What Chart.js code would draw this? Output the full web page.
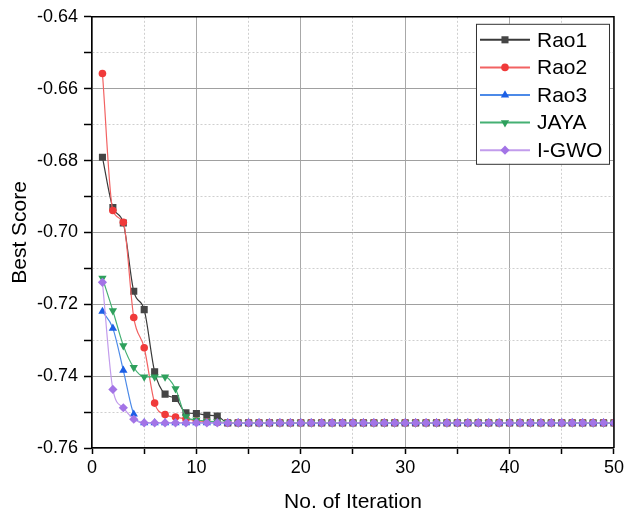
<!DOCTYPE html>
<html>
<head>
<meta charset="utf-8">
<script src="https://cdn.jsdelivr.net/npm/chart.js@4.4.1/dist/chart.umd.min.js"></script>
<style>
  html, body { margin: 0; padding: 0; background: #fff; }
  #graph { display: block; }
</style>
</head>
<body>
<canvas id="graph" width="627" height="515"></canvas>
<script>
const iterations = [1,2,3,4,5,6,7,8,9,10,11,12,13,14,15,16,17,18,19,20,21,22,23,24,25,
  26,27,28,29,30,31,32,33,34,35,36,37,38,39,40,41,42,43,44,45,46,47,48,49,50];

const rao1 = [-0.6791,-0.6931,-0.6974,-0.7164,-0.7215,-0.7388,-0.7450,-0.7462,-0.7502,-0.7504,
  -0.7509,-0.7511,-0.7530,-0.7530,-0.7530,-0.7530,-0.7530,-0.7530,-0.7530,-0.7530,
  -0.7530,-0.7530,-0.7530,-0.7530,-0.7530,-0.7530,-0.7530,-0.7530,-0.7530,-0.7530,
  -0.7530,-0.7530,-0.7530,-0.7530,-0.7530,-0.7530,-0.7530,-0.7530,-0.7530,-0.7530,
  -0.7530,-0.7530,-0.7530,-0.7530,-0.7530,-0.7530,-0.7530,-0.7530,-0.7530,-0.7530];
const rao2 = [-0.6558,-0.6939,-0.6972,-0.7237,-0.7321,-0.7475,-0.7507,-0.7514,-0.7519,-0.7524,
  -0.7527,-0.7529,-0.7530,-0.7530,-0.7530,-0.7530,-0.7530,-0.7530,-0.7530,-0.7530,
  -0.7530,-0.7530,-0.7530,-0.7530,-0.7530,-0.7530,-0.7530,-0.7530,-0.7530,-0.7530,
  -0.7530,-0.7530,-0.7530,-0.7530,-0.7530,-0.7530,-0.7530,-0.7530,-0.7530,-0.7530,
  -0.7530,-0.7530,-0.7530,-0.7530,-0.7530,-0.7530,-0.7530,-0.7530,-0.7530,-0.7530];
const rao3 = [-0.7220,-0.7267,-0.7384,-0.7506,-0.7530,-0.7530,-0.7530,-0.7530,-0.7530,-0.7530,
  -0.7530,-0.7530,-0.7530,-0.7530,-0.7530,-0.7530,-0.7530,-0.7530,-0.7530,-0.7530,
  -0.7530,-0.7530,-0.7530,-0.7530,-0.7530,-0.7530,-0.7530,-0.7530,-0.7530,-0.7530,
  -0.7530,-0.7530,-0.7530,-0.7530,-0.7530,-0.7530,-0.7530,-0.7530,-0.7530,-0.7530,
  -0.7530,-0.7530,-0.7530,-0.7530,-0.7530,-0.7530,-0.7530,-0.7530,-0.7530,-0.7530];
const jaya = [-0.7127,-0.7218,-0.7315,-0.7376,-0.7402,-0.7402,-0.7402,-0.7435,-0.7513,-0.7522,
  -0.7525,-0.7527,-0.7529,-0.7530,-0.7530,-0.7530,-0.7530,-0.7530,-0.7530,-0.7530,
  -0.7530,-0.7530,-0.7530,-0.7530,-0.7530,-0.7530,-0.7530,-0.7530,-0.7530,-0.7530,
  -0.7530,-0.7530,-0.7530,-0.7530,-0.7530,-0.7530,-0.7530,-0.7530,-0.7530,-0.7530,
  -0.7530,-0.7530,-0.7530,-0.7530,-0.7530,-0.7530,-0.7530,-0.7530,-0.7530,-0.7530];
const igwo = [-0.7139,-0.7437,-0.7488,-0.7520,-0.7530,-0.7530,-0.7530,-0.7530,-0.7530,-0.7530,
  -0.7530,-0.7530,-0.7530,-0.7530,-0.7530,-0.7530,-0.7530,-0.7530,-0.7530,-0.7530,
  -0.7530,-0.7530,-0.7530,-0.7530,-0.7530,-0.7530,-0.7530,-0.7530,-0.7530,-0.7530,
  -0.7530,-0.7530,-0.7530,-0.7530,-0.7530,-0.7530,-0.7530,-0.7530,-0.7530,-0.7530,
  -0.7530,-0.7530,-0.7530,-0.7530,-0.7530,-0.7530,-0.7530,-0.7530,-0.7530,-0.7530];

const seriesNames = ['Rao1', 'Rao2', 'Rao3', 'JAYA', 'I-GWO'];
const seriesValues = [rao1, rao2, rao3, jaya, igwo];

const FONT = '"Liberation Sans", Arial, sans-serif';

// look of each series: marker colour, line colour, marker shape
const styles = [
  { mark: '#454545', line: '#3a3a3a', shape: 'rect',    radius: 5.0, rot: 0 },
  { mark: '#f03a3a', line: '#f26262', shape: 'circle',  radius: 3.8, rot: 0 },
  { mark: '#1c5fe6', line: '#4c8ae8', shape: 'triangle', radius: 4.8, rot: 0 },
  { mark: '#2ea05c', line: '#45b073', shape: 'triangle', radius: 4.8, rot: 180 },
  { mark: '#a374e6', line: '#c29cec', shape: 'rectRot', radius: 4.6, rot: 0 }
];

const datasets = seriesNames.map((name, i) => ({
  label: name,
  data: iterations.map((it, k) => ({ x: it, y: seriesValues[i][k] })),
  borderColor: styles[i].line,
  borderWidth: 1.2,
  backgroundColor: styles[i].mark,
  pointBackgroundColor: styles[i].mark,
  pointBorderColor: styles[i].mark,
  pointBorderWidth: 0,
  pointStyle: styles[i].shape,
  pointRotation: styles[i].rot,
  pointRadius: styles[i].radius,
  cubicInterpolationMode: 'monotone',
  fill: false,
  order: 5 - i
}));

// frame on top/right plus the Origin-style legend
const framePlugin = {
  id: 'frameLegend',
  afterDraw(chart) {
    const { ctx, chartArea: a } = chart;
    ctx.save();
    ctx.strokeStyle = '#000';
    ctx.lineWidth = 1.5;
    ctx.beginPath();
    ctx.moveTo(a.left, a.top);
    ctx.lineTo(a.right, a.top);
    ctx.lineTo(a.right, a.bottom);
    ctx.stroke();

    const bx = a.right - 138, by = a.top + 7, bw = 133, bh = 140;
    ctx.fillStyle = '#fff';
    ctx.fillRect(bx, by, bw, bh);
    ctx.strokeStyle = '#333';
    ctx.lineWidth = 1;
    ctx.strokeRect(bx + 0.5, by + 0.5, bw, bh);

    seriesNames.forEach((name, i) => {
      const y = by + 16 + i * 27.6;
      ctx.strokeStyle = styles[i].line;
      ctx.lineWidth = 2;
      ctx.beginPath();
      ctx.moveTo(bx + 4, y);
      ctx.lineTo(bx + 54, y);
      ctx.stroke();
      ctx.fillStyle = styles[i].mark;
      ctx.strokeStyle = styles[i].mark;
      Chart.helpers.drawPoint(ctx, {
        pointStyle: styles[i].shape, radius: styles[i].radius,
        rotation: styles[i].rot, borderWidth: 0
      }, bx + 29, y);
      ctx.fillStyle = '#000';
      ctx.font = '21px ' + FONT;
      ctx.textBaseline = 'middle';
      ctx.textAlign = 'left';
      ctx.fillText(name, bx + 61, y + 1);
    });
    ctx.restore();
  }
};

const isMajorX = v => Math.round(v) % 10 === 0;
const isMajorY = v => Math.abs(Math.round(v * 100)) % 2 === 0;

new Chart(document.getElementById('graph').getContext('2d'), {
  type: 'line',
  data: { datasets },
  options: {
    responsive: false,
    animation: false,
    events: [],
    layout: { padding: { left: 8, top: 15, right: 10, bottom: 0 } },
    plugins: { legend: { display: false }, tooltip: { enabled: false } },
    scales: {
      x: {
        type: 'linear',
        min: 0, max: 50,
        afterFit(scale) { scale.height = 67; },
        ticks: {
          stepSize: 5, autoSkip: false, maxRotation: 0,
          color: '#000', padding: 3,
          font: { family: FONT, size: 18 },
          callback: v => isMajorX(v) ? String(v) : ''
        },
        grid: {
          color: c => isMajorX(c.tick ? c.tick.value : 0) ? '#a8a8a8' : '#cfcfcf',
          lineWidth: 1,
          tickColor: '#000', tickWidth: 1.5, tickLength: 6,
          tickBorderDash: []
        },
        border: {
          display: true, color: '#000', width: 1.5,
          dash: c => (c.tick && !isMajorX(c.tick.value)) ? [2, 2] : []
        },
        title: {
          display: true, text: 'No. of Iteration', color: '#000',
          font: { family: FONT, size: 21 }, padding: { top: 6, bottom: 0 }
        }
      },
      y: {
        min: -0.76, max: -0.64,
        afterFit(scale) { scale.width = 84; },
        ticks: {
          stepSize: 0.01, autoSkip: false,
          color: '#000', padding: 6,
          font: { family: FONT, size: 18 },
          callback: (v, i) => i % 2 === 0 ? Number(v).toFixed(2) : ''
        },
        grid: {
          color: c => isMajorY(c.tick ? c.tick.value : 0) ? '#a0a0a0' : '#cfcfcf',
          lineWidth: 1,
          tickColor: '#000', tickWidth: 1.5, tickLength: 8,
          tickBorderDash: []
        },
        border: {
          display: true, color: '#000', width: 1.5,
          dash: c => (c.tick && !isMajorY(c.tick.value)) ? [2, 2] : []
        },
        title: {
          display: true, text: 'Best Score', color: '#000',
          font: { family: FONT, size: 21 }, padding: { top: 0, bottom: 4 }
        }
      }
    }
  },
  plugins: [framePlugin]
});
</script>
</body>
</html>
